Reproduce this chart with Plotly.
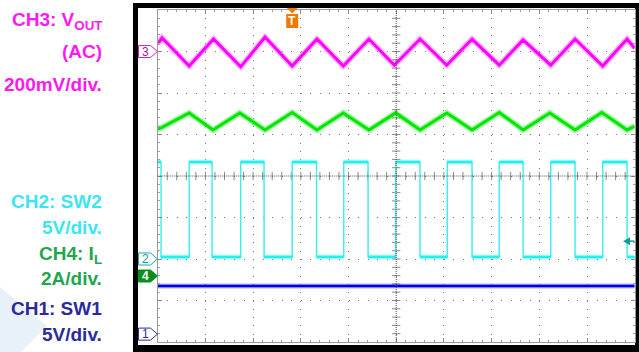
import plotly.graph_objects as go

# ---------------- data (oscilloscope divisions) ----------------
# time axis: 10 divisions, vertical: 8 divisions (-4..4)
# CH2 (SW2) switching edges
sw2_fall = [0.07, 1.14, 2.23, 3.33, 4.41, 5.50, 6.59, 7.66, 8.75, 9.84]
sw2_rise = [0.66, 1.74, 2.82, 3.90, 4.99, 6.07, 7.16, 8.24, 9.33]
sw2_high = 0.34
sw2_low = -1.95

# CH3 (Vout AC) ripple vertices
vout_t = [0.00, 0.09, 0.66, 1.17, 1.74, 2.25, 2.82, 3.34, 3.89, 4.43, 4.96,
          5.50, 6.06, 6.59, 7.16, 7.66, 8.24, 8.75, 9.33, 9.84, 10.00]
vout_v = [3.18, 3.33, 2.65, 3.30, 2.63, 3.35, 2.65, 3.30, 2.65, 3.30, 2.67,
          3.30, 2.67, 3.30, 2.67, 3.28, 2.67, 3.30, 2.65, 3.30, 3.08]

# CH4 (inductor current) vertices
il_t = [0.00, 0.07, 0.66, 1.16, 1.72, 2.25, 2.82, 3.34, 3.89, 4.43, 4.99,
        5.50, 6.06, 6.59, 7.16, 7.66, 8.22, 8.75, 9.31, 9.84, 10.00]
il_v = [1.13, 1.16, 1.52, 1.11, 1.52, 1.11, 1.53, 1.11, 1.52, 1.11, 1.52,
        1.11, 1.52, 1.11, 1.53, 1.11, 1.52, 1.11, 1.53, 1.11, 1.20]

# CH1 (SW1) level
sw1_t = [0.0, 10.0]
sw1_v = [-2.65, -2.65]

# channel ground reference markers
ch_ref = {"3": 3.0, "2": -2.0, "4": -2.41, "1": -3.81}
trig_time = 2.82
trig_level = -1.57

# side labels: text, pixel row, colour
label_text = ["CH3: V<sub>OUT</sub>", "(AC)", "200mV/div.",
              "CH2: SW2", "5V/div.", "CH4: I<sub>L</sub>", "2A/div.",
              "CH1: SW1", "5V/div."]
label_row = [21, 52, 84, 201, 227, 255, 278, 308, 334]
label_color = ["#FF19F0", "#FF19F0", "#FF19F0",
               "#3CE6F0", "#3CE6F0", "#1FA64F", "#1FA64F",
               "#2B2B9C", "#2B2B9C"]

# ---------------- geometry ----------------
W, H = 639, 352
PX_L, PX_R, PX_T, PX_B = 157.7, 634.7, 10.0, 342.0


def px(x):
    return x / W


def py(y):
    return 1 - y / H


# build SW2 square wave
edges = sorted([(t, "f") for t in sw2_fall] + [(t, "r") for t in sw2_rise])
sx, sy = [0.0], [sw2_high]
level = sw2_high
flat_x, flat_y = [0.0], [sw2_high]
for t, kind in edges:
    new = sw2_low if kind == "f" else sw2_high
    sx += [t, t]
    sy += [level, new]
    flat_x += [t, None, t]
    flat_y += [level, None, new]
    level = new
sx.append(10.0)
sy.append(level)
flat_x.append(10.0)
flat_y.append(level)

fig = go.Figure()


def thick(x, y, core, halo, wcore, whalo):
    fig.add_trace(go.Scatter(x=x, y=y, mode="lines",
                             line=dict(color=halo, width=whalo),
                             hoverinfo="skip", connectgaps=False))
    fig.add_trace(go.Scatter(x=x, y=y, mode="lines",
                             line=dict(color=core, width=wcore),
                             hoverinfo="skip", connectgaps=False))


# crosshair ticks
ticks_x = [i * 0.2 for i in range(1, 50)]
ticks_y = [-4 + i * 0.2 for i in range(1, 40)]
fig.add_trace(go.Scatter(x=ticks_x, y=[0] * len(ticks_x), mode="markers",
                         marker=dict(symbol="line-ns", size=6,
                                     line=dict(width=1, color="#8a8a8a")),
                         hoverinfo="skip"))
fig.add_trace(go.Scatter(x=[5] * len(ticks_y), y=ticks_y, mode="markers",
                         marker=dict(symbol="line-ew", size=6,
                                     line=dict(width=1, color="#8a8a8a")),
                         hoverinfo="skip"))

thick(vout_t, vout_v, "#FF00FF", "rgba(255,60,255,0.35)", 3, 6)
thick(il_t, il_v, "#00E600", "rgba(0,230,0,0.35)", 3, 6)
fig.add_trace(go.Scatter(x=sx, y=sy, mode="lines",
                         line=dict(color="#40F0F0", width=1.5),
                         hoverinfo="skip"))
thick(flat_x, flat_y, "#20F0F0", "rgba(40,240,240,0.35)", 2.5, 5)
thick(sw1_t, sw1_v, "#0000E6", "rgba(0,0,230,0.3)", 2.5, 5)

shapes = []
# black instrument frame
shapes.append(dict(type="rect", xref="paper", yref="paper", layer="below",
                   x0=px(133), x1=px(639), y0=py(352), y1=py(3),
                   fillcolor="black", line=dict(width=0)))
shapes.append(dict(type="rect", xref="paper", yref="paper", layer="below",
                   x0=px(138), x1=px(635), y0=py(345), y1=py(8),
                   fillcolor="white", line=dict(width=0)))
# pale chevron at lower left
shapes.append(dict(type="path", xref="paper", yref="paper", layer="below",
                   path=f"M {px(0)} {py(287)} L {px(47)} {py(326)} "
                        f"L {px(21)} {py(352)} L {px(0)} {py(352)} Z",
                   fillcolor="#E8F1F8", line=dict(width=0)))
# crosshair lines
shapes.append(dict(type="line", xref="x", yref="y", x0=0, x1=10, y0=0, y1=0,
                   line=dict(color="#555", width=1, dash="1px,1px")))
shapes.append(dict(type="line", xref="x", yref="y", x0=5, x1=5, y0=-4, y1=4,
                   line=dict(color="#555", width=1, dash="1px,1px")))

# channel markers
marker_style = {
    "3": ("white", "#D020D0", "#A020A0"),
    "2": ("white", "#20A8A8", "#159A9A"),
    "4": ("#0A8F1A", "#0A8F1A", "white"),
    "1": ("white", "#2B2B9C", "#2B2B9C"),
}
annotations = []
hh = 0.145
for ch, yv in ch_ref.items():
    fill, edge, txt = marker_style[ch]
    x0, x1, x2 = px(138.5), px(150.5), px(157.5)
    shapes.append(dict(type="path", xref="paper", yref="y",
                       path=f"M {x0} {yv - hh} L {x1} {yv - hh} L {x2} {yv} "
                            f"L {x1} {yv + hh} L {x0} {yv + hh} Z",
                       fillcolor=fill, line=dict(color=edge, width=1)))
    annotations.append(dict(xref="paper", yref="y", x=px(145), y=yv, text=ch,
                            showarrow=False, xanchor="center", yanchor="middle",
                            font=dict(family="Liberation Sans", size=12,
                                      color=txt,
                                      weight="bold" if ch == "4" else "normal")))

# trigger position marker (top)
hw = 6 / ((PX_R - PX_L) / 10)
shapes.append(dict(type="path", xref="x", yref="paper",
                   path=f"M {trig_time - hw * 0.9} {py(8)} L {trig_time + hw * 0.9} {py(8)} "
                        f"L {trig_time} {py(13.5)} Z",
                   fillcolor="#F07A00", line=dict(width=0)))
shapes.append(dict(type="rect", xref="x", yref="paper",
                   x0=trig_time - hw, x1=trig_time + hw, y0=py(28), y1=py(14),
                   fillcolor="#F07A00", line=dict(width=0)))
annotations.append(dict(xref="x", yref="paper", x=trig_time, y=py(21.5),
                        text="T", showarrow=False, xanchor="center",
                        yanchor="middle",
                        font=dict(family="Liberation Sans", size=12,
                                  color="white", weight="bold")))
# trigger level marker (right)
dv = 4 / ((PX_B - PX_T) / 8)
shapes.append(dict(type="path", xref="paper", yref="y",
                   path=f"M {px(623)} {trig_level} L {px(630)} {trig_level + dv} "
                        f"L {px(630)} {trig_level - dv} Z",
                   fillcolor="#139C9C", line=dict(width=0)))
shapes.append(dict(type="line", xref="paper", yref="y", x0=px(629),
                   x1=px(634.5), y0=trig_level, y1=trig_level,
                   line=dict(color="#139C9C", width=1.5)))

# side labels
for t, r, c in zip(label_text, label_row, label_color):
    annotations.append(dict(xref="paper", yref="paper", x=px(104), y=py(r),
                            text=t, showarrow=False, xanchor="right",
                            yanchor="middle",
                            font=dict(family="Liberation Sans", size=19,
                                      color=c, weight="bold")))

axis_common = dict(showticklabels=False, zeroline=False, showline=True,
                   linecolor="#9a9a9a", linewidth=1, mirror="allticks",
                   ticks="inside", ticklen=4, tickcolor="#8a8a8a",
                   showgrid=True, gridcolor="#7a7a7a", gridwidth=1,
                   tick0=0, dtick=1, fixedrange=True)

fig.update_layout(
    width=W, height=H, margin=dict(l=0, r=0, t=0, b=0),
    paper_bgcolor="white", plot_bgcolor="rgba(0,0,0,0)",
    showlegend=False, shapes=shapes, annotations=annotations,
    xaxis=dict(range=[0, 10], domain=[px(PX_L), px(PX_R)],
               griddash="1px,7.3px",
               minor=dict(dtick=0.2, ticks="inside", ticklen=2,
                          tickcolor="#a0a0a0", showgrid=False),
               **axis_common),
    yaxis=dict(range=[-4, 4], domain=[py(PX_B), py(PX_T)],
               griddash="1px,8.54px",
               minor=dict(dtick=0.2, ticks="inside", ticklen=2,
                          tickcolor="#a0a0a0", showgrid=False),
               **axis_common),
)

fig.write_html(
    "out.html",
    config={"displayModeBar": False},
    post_script="document.body.style.margin='0';"
                "document.body.style.overflow='hidden';",
)
